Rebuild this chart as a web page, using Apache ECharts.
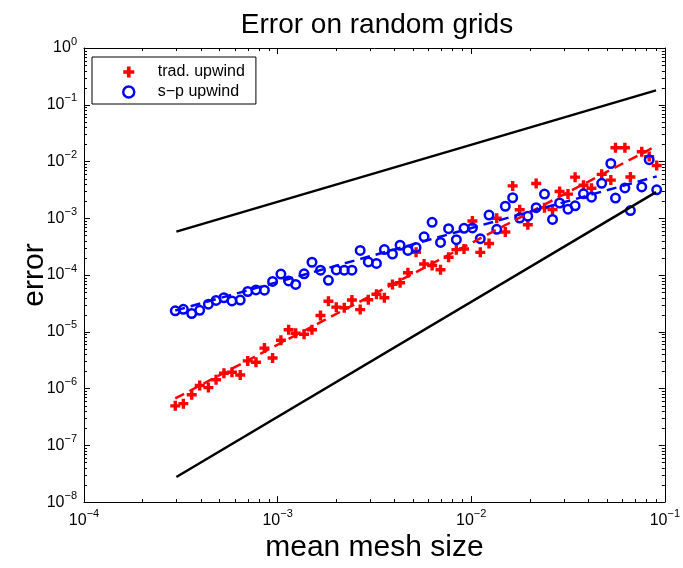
<!DOCTYPE html>
<html><head><meta charset="utf-8">
<script src="https://cdn.jsdelivr.net/npm/echarts@6/dist/echarts.min.js"></script>
<style>html,body{margin:0;padding:0;background:#fff}#c{width:683px;height:568px}</style>
</head><body><div id="c"></div>
<script>
// ---- data ----
const meshSize = [
 2.96e-4, 3.26e-4, 3.60e-4, 3.96e-4, 4.39e-4, 4.81e-4, 5.28e-4, 5.81e-4, 6.41e-4, 7.01e-4,
 7.73e-4, 8.55e-4, 9.42e-4, 1.04e-3, 1.14e-3, 1.24e-3, 1.37e-3, 1.505e-3, 1.665e-3, 1.83e-3,
 2.01e-3, 2.21e-3, 2.42e-3, 2.67e-3, 2.94e-3, 3.24e-3, 3.56e-3, 3.92e-3, 4.29e-3, 4.71e-3,
 5.19e-3, 5.71e-3, 6.28e-3, 6.94e-3, 7.64e-3, 8.38e-3, 9.18e-3, 1.014e-2, 1.114e-2, 1.236e-2,
 1.355e-2, 1.50e-2, 1.637e-2, 1.78e-2, 1.96e-2, 2.165e-2, 2.39e-2, 2.63e-2, 2.86e-2, 3.16e-2,
 3.44e-2, 3.80e-2, 4.18e-2, 4.72e-2, 5.26e-2, 5.56e-2, 6.22e-2, 6.64e-2, 7.60e-2, 8.30e-2,
 9.08e-2
];
const tradUpwind = [
 4.96e-7, 5.42e-7, 7.77e-7, 1.13e-6, 1.04e-6, 1.43e-6, 1.86e-6, 1.94e-6, 1.73e-6, 3.07e-6,
 2.91e-6, 5.16e-6, 3.46e-6, 7.12e-6, 1.09e-5, 9.42e-6, 9.05e-6, 1.09e-5, 1.94e-5, 3.46e-5,
 2.72e-5, 2.65e-5, 3.63e-5, 2.46e-5, 3.67e-5, 4.58e-5, 3.98e-5, 6.84e-5, 7.31e-5, 1.10e-4,
 2.51e-4, 1.57e-4, 1.47e-4, 1.24e-4, 2.06e-4, 2.80e-4, 2.87e-4, 8.94e-4, 2.51e-4, 3.60e-4,
 1.00e-3, 5.75e-4, 3.72e-3, 1.41e-3, 7.71e-4, 4.09e-3, 1.54e-3, 1.42e-3, 2.97e-3, 2.67e-3,
 5.31e-3, 3.83e-3, 3.39e-3, 5.94e-3, 4.71e-3, 1.75e-2, 1.75e-2, 5.35e-3, 1.49e-2, 1.22e-2,
 8.51e-3
];
const spUpwind = [
 2.34e-5, 2.49e-5, 2.10e-5, 2.39e-5, 3.07e-5, 3.57e-5, 3.98e-5, 3.50e-5, 3.63e-5, 5.13e-5,
 5.48e-5, 5.42e-5, 7.71e-5, 1.04e-4, 7.87e-5, 6.84e-5, 1.05e-4, 1.68e-4, 1.22e-4, 8.09e-5,
 1.23e-4, 1.22e-4, 1.22e-4, 2.72e-4, 1.70e-4, 1.60e-4, 2.81e-4, 2.35e-4, 3.35e-4, 2.72e-4,
 3.07e-4, 4.71e-4, 8.51e-4, 3.75e-4, 6.57e-4, 4.19e-4, 6.65e-4, 6.75e-4, 4.37e-4, 1.14e-3,
 6.39e-4, 1.63e-3, 2.30e-3, 1.01e-3, 1.09e-3, 1.54e-3, 2.67e-3, 9.53e-4, 1.86e-3, 1.45e-3,
 1.66e-3, 2.70e-3, 2.35e-3, 4.14e-3, 9.23e-3, 2.27e-3, 3.43e-3, 1.37e-3, 3.56e-3, 1.08e-2,
 3.17e-3
];
// fitted (dashed) lines, endpoints
const fitX = [2.96e-4, 9.08e-2];
const tradFit = [6.7e-7, 1.9e-2];
const spFit = [2.37e-5, 5.48e-3];
// reference slopes (black lines)
const refX = [3.0e-4, 9.0e-2];
const firstOrderRef = [5.82e-4, 0.179];
const secondOrderRef = [2.77e-8, 2.89e-3];
// axis ranges / ticks
const xRange = [1e-4, 1e-1];
const yRange = [1e-8, 1e0];
const minorMult = [2, 3, 4, 5, 6, 7, 8, 9];
const xDecades = [1e-4, 1e-3, 1e-2];
const yDecades = [1e-8, 1e-7, 1e-6, 1e-5, 1e-4, 1e-3, 1e-2, 1e-1];

const FONT = 'Liberation Sans';
const pair = (xs, ys) => xs.map((x, i) => [x, ys[i]]);
const minorX = []; xDecades.forEach(d => minorMult.forEach(m => minorX.push(d * m)));
const minorY = []; yDecades.forEach(d => minorMult.forEach(m => minorY.push(d * m)));

const supFmt = v => {
  const e = Math.round(Math.log10(v));
  return '{b|10}{s|' + (e < 0 ? '\u2212' + (-e) : e) + '}';
};
const rich = {
  b: { fontSize: 16, fontFamily: FONT, color: '#000', lineHeight: 24 },
  s: { fontSize: 11, fontFamily: FONT, color: '#000', lineHeight: 10, verticalAlign: 'top' }
};
const plusPath = 'path://M3.3,0H6.7V3.3H10V6.7H6.7V10H3.3V6.7H0V3.3H3.3Z';

const MINOR = 3;
const minorTicks = (vals, isX) => ({
  type: 'custom', silent: true, z: 5, clip: false,
  data: vals.map(v => isX ? [v, yRange[0]] : [xRange[0], v]),
  renderItem(params, api) {
    const cs = params.coordSys;
    const p = api.coord([api.value(0), api.value(1)]);
    const st = { stroke: '#000', lineWidth: 1 };
    if (isX) {
      const x = Math.round(p[0]) + 0.5;
      return { type: 'group', children: [
        { type: 'line', shape: { x1: x, y1: cs.y + cs.height, x2: x, y2: cs.y + cs.height - MINOR }, style: st },
        { type: 'line', shape: { x1: x, y1: cs.y, x2: x, y2: cs.y + MINOR }, style: st }
      ]};
    }
    const y = Math.round(p[1]) + 0.5;
    return { type: 'group', children: [
      { type: 'line', shape: { x1: cs.x, y1: y, x2: cs.x + MINOR, y2: y }, style: st },
      { type: 'line', shape: { x1: cs.x + cs.width, y1: y, x2: cs.x + cs.width - MINOR, y2: y }, style: st }
    ]};
  }
});

const axisCommon = {
  type: 'log', logBase: 10,
  axisLine: { show: true, onZero: false, lineStyle: { color: '#000', width: 1 } },
  axisTick: { show: true, inside: true, length: 6, lineStyle: { color: '#000', width: 1 } },
  splitLine: { show: false }, minorTick: { show: false }
};

const chart = echarts.init(document.getElementById('c'), null, { renderer: 'canvas' });
chart.setOption({
  animation: false,
  backgroundColor: '#fff',
  title: {
    text: 'Error on random grids', left: 372, top: 6, textAlign: 'center',
    textStyle: { fontFamily: FONT, fontSize: 28, fontWeight: 'normal', color: '#000' }
  },
  legend: {
    left: 92, top: 57, orient: 'vertical',
    padding: [5, 11, 2, 30], itemGap: 0, itemWidth: 48, itemHeight: 11,
    borderColor: '#000', borderWidth: 1, backgroundColor: '#fff',
    selectedMode: false,
    textStyle: { fontFamily: FONT, fontSize: 16, color: '#000', lineHeight: 20 },
    data: [
      { name: 'trad. upwind', icon: plusPath, itemStyle: { color: '#ff0000', borderWidth: 0 } },
      { name: 's\u2212p upwind', icon: 'circle', itemStyle: { color: 'rgba(0,0,0,0)', borderColor: '#0000ff', borderWidth: 2.5 } }
    ]
  },
  grid: { left: 84, right: 13, top: 48, bottom: 60 },
  xAxis: [
    Object.assign({}, axisCommon, {
      min: xRange[0], max: xRange[1], position: 'bottom',
      name: 'mean mesh size', nameLocation: 'middle', nameGap: 26,
      nameTextStyle: { fontFamily: FONT, fontSize: 30, color: '#000' },
      axisLabel: { margin: 6, formatter: supFmt, rich: rich }
    }),
    Object.assign({}, axisCommon, {
      min: xRange[0], max: xRange[1], position: 'top', axisLabel: { show: false }
    })
  ],
  yAxis: [
    Object.assign({}, axisCommon, {
      min: yRange[0], max: yRange[1], position: 'left',
      name: 'error', nameLocation: 'middle', nameGap: 34, nameRotate: 90,
      nameMoveOverlap: false,
      nameTextStyle: { fontFamily: FONT, fontSize: 30, color: '#000' },
      axisLabel: { margin: 7, formatter: supFmt, rich: rich }
    }),
    Object.assign({}, axisCommon, {
      min: yRange[0], max: yRange[1], position: 'right', axisLabel: { show: false }
    })
  ],
  series: [
    {
      name: 'trad. upwind', type: 'scatter', data: pair(meshSize, tradUpwind),
      symbol: plusPath, symbolSize: 10,
      itemStyle: { color: '#ff0000', opacity: 1 }
    },
    {
      name: 's\u2212p upwind', type: 'scatter', data: pair(meshSize, spUpwind),
      symbol: 'circle', symbolSize: 8.5,
      itemStyle: { color: 'rgba(0,0,0,0)', borderColor: '#0000ff', borderWidth: 2.5, opacity: 1 }
    },
    {
      name: 'trad fit', type: 'line', data: pair(fitX, tradFit), symbol: 'none',
      lineStyle: { color: '#ff0000', width: 2.5, type: [10, 6] }
    },
    {
      name: 'sp fit', type: 'line', data: pair(fitX, spFit), symbol: 'none',
      lineStyle: { color: '#0000ff', width: 2.5, type: [10, 6] }
    },
    {
      name: 'first order', type: 'line', data: pair(refX, firstOrderRef), symbol: 'none',
      lineStyle: { color: '#000', width: 2.5 }
    },
    {
      name: 'second order', type: 'line', data: pair(refX, secondOrderRef), symbol: 'none',
      lineStyle: { color: '#000', width: 2.5 }
    },
    minorTicks(minorX, true),
    minorTicks(minorY, false)
  ]
});
</script></body></html>
